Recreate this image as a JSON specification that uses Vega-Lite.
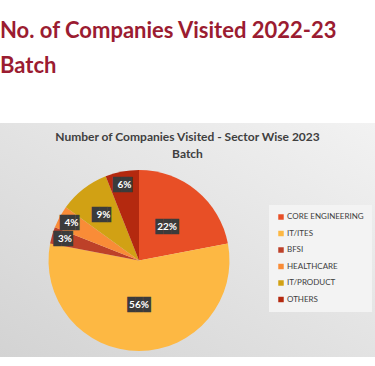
{
  "$schema": "https://vega.github.io/schema/vega-lite/v6.json",
  "padding": {"top": 20, "left": 0, "right": 0, "bottom": 0},
  "background": "#ffffff",
  "title": {
    "text": ["No. of Companies Visited 2022-23", "Batch"],
    "anchor": "start",
    "frame": "group",
    "font": "Lato",
    "fontSize": 22,
    "fontWeight": "bold",
    "color": "#9b1c31",
    "lineHeight": 35,
    "offset": 45
  },
  "spacing": 0,
  "vconcat": [
    {
      "width": 375,
      "height": 234,
      "view": {
        "stroke": null,
        "fill": {
          "gradient": "linear",
          "x1": 1, "y1": 0, "x2": 0, "y2": 1,
          "stops": [
            {"offset": 0, "color": "#f2f2f2"},
            {"offset": 1, "color": "#d3d3d3"}
          ]
        }
      },
      "title": {
        "text": ["Number of Companies Visited - Sector Wise 2023", "Batch"],
        "anchor": "middle",
        "offset": -38,
        "font": "Lato",
        "fontSize": 12,
        "fontWeight": "bold",
        "color": "#3f3f3f",
        "lineHeight": 17
      },
      "data": {
        "values": [
          {"rank": 1, "sector": "CORE ENGINEERING", "share": 0.22},
          {"rank": 2, "sector": "IT/ITES", "share": 0.56},
          {"rank": 3, "sector": "BFSI", "share": 0.03},
          {"rank": 4, "sector": "HEALTHCARE", "share": 0.04},
          {"rank": 5, "sector": "IT/PRODUCT", "share": 0.09},
          {"rank": 6, "sector": "OTHERS", "share": 0.06}
        ]
      },
      "layer": [
        {
          "mark": {"type": "arc", "outerRadius": 90.5, "x": 139, "y": 137.5},
          "encoding": {
            "theta": {"field": "share", "type": "quantitative", "stack": true},
            "order": {"field": "rank", "type": "quantitative"},
            "color": {
              "field": "sector",
              "type": "nominal",
              "scale": {
                "domain": ["CORE ENGINEERING", "IT/ITES", "BFSI", "HEALTHCARE", "IT/PRODUCT", "OTHERS"],
                "range": ["#e84f26", "#fdb843", "#bd4129", "#f98c37", "#d1a114", "#b4290f"]
              },
              "legend": {
                "orient": "none",
                "legendX": 269,
                "legendY": 82,
                "title": null,
                "symbolType": "square",
                "symbolSize": 30,
                "symbolStrokeWidth": 0,
                "labelFont": "Lato",
                "labelFontSize": 8,
                "labelColor": "#404040",
                "labelOffset": 2,
                "rowPadding": 8.5,
                "padding": 8,
                "fillColor": "#f3f3f3"
              }
            }
          }
        },
        {
          "mark": {"type": "text", "x": 139, "y": 137.5, "font": "DejaVu Sans Mono", "fontSize": 13, "color": "#3b3b3b"},
          "encoding": {
            "theta": {"field": "share", "type": "quantitative", "stack": true},
            "order": {"field": "rank", "type": "quantitative"},
            "radius": {"field": "share", "type": "quantitative", "scale": {"type": "linear", "domain": [0.06, 0.09, 0.22], "range": [77, 58, 44], "clamp": true, "zero": false, "nice": false}},
            "text": {"condition": {"test": "datum.share >= 0.1", "value": "███"}, "value": "██▌"}
          }
        },
        {
          "mark": {"type": "text", "x": 139, "y": 137.5, "font": "Lato", "fontSize": 10, "fontWeight": "bold", "color": "#ffffff"},
          "encoding": {
            "theta": {"field": "share", "type": "quantitative", "stack": true},
            "order": {"field": "rank", "type": "quantitative"},
            "radius": {"field": "share", "type": "quantitative", "scale": {"type": "linear", "domain": [0.06, 0.09, 0.22], "range": [77, 58, 44], "clamp": true, "zero": false, "nice": false}},
            "text": {"field": "share", "type": "quantitative", "format": ".0%"}
          }
        }
      ]
    }
  ]
}
